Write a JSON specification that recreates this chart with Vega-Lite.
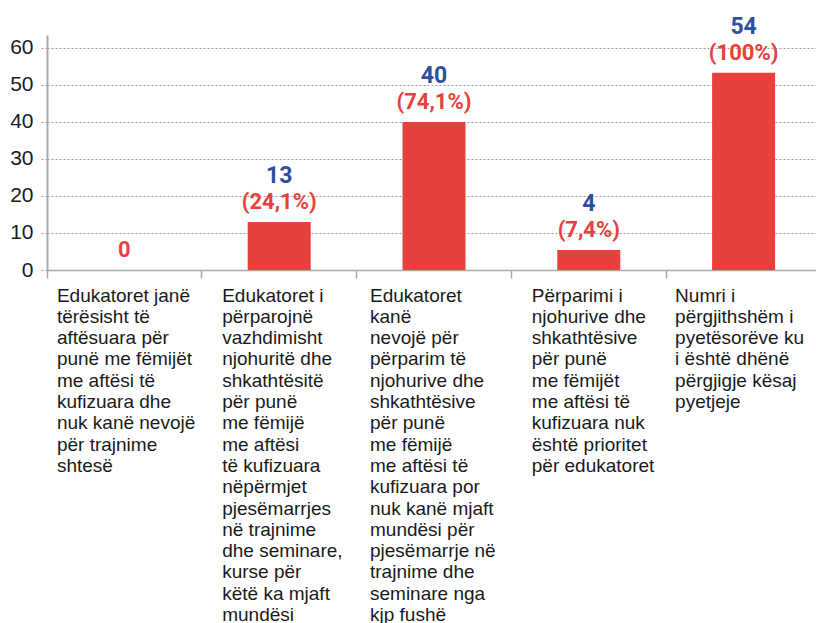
{
  "$schema": "https://vega.github.io/schema/vega-lite/v6.json",
  "width": 774,
  "height": 235,
  "autosize": {"type": "none"},
  "padding": {"left": 47, "top": 35, "right": 0, "bottom": 353},
  "background": "white",
  "config": {"view": {"stroke": null}},
  "data": {
    "values": [
      {"cat": "Edukatoret janë|tërësisht të|aftësuara për|punë me fëmijët|me aftësi të|kufizuara dhe|nuk kanë nevojë|për trajnime|shtesë", "value": 0, "n": "", "pct": "0"},
      {"cat": "Edukatoret i|përparojnë|vazhdimisht|njohuritë dhe|shkathtësitë|për punë|me fëmijë|me aftësi|të kufizuara|nëpërmjet|pjesëmarrjes|në trajnime|dhe seminare,|kurse për|këtë ka mjaft|mundësi", "value": 13, "n": "13", "pct": "(24,1%)"},
      {"cat": "Edukatoret|kanë|nevojë për|përparim të|njohurive dhe|shkathtësive|për punë|me fëmijë|me aftësi të|kufizuara por|nuk kanë mjaft|mundësi për|pjesëmarrje në|trajnime dhe|seminare nga|kjp fushë", "value": 40, "n": "40", "pct": "(74,1%)"},
      {"cat": "Përparimi i|njohurive dhe|shkathtësive|për punë|me fëmijët|me aftësi të|kufizuara nuk|është prioritet|për edukatoret", "value": 5.4, "n": "4", "pct": "(7,4%)"},
      {"cat": "Numri i|përgjithshëm i|pyetësorëve ku|i është dhënë|përgjigje kësaj|pyetjeje", "value": 53.3, "n": "54", "pct": "(100%)"}
    ]
  },
  "encoding": {
    "x": {
      "field": "cat",
      "type": "nominal",
      "sort": null,
      "scale": {"paddingInner": 0, "paddingOuter": 0},
      "axis": {
        "title": null,
        "bandPosition": 0,
        "labelAngle": 0,
        "labelAlign": "left",
        "labelBaseline": "top",
        "labelExpr": "split(datum.label, '|')",
        "labelFont": "Liberation Sans",
        "labelFontSize": 19,
        "labelColor": "#1a1a1a",
        "labelLineHeight": 21.3,
        "labelPadding": 8,
        "labelLimit": 400,
        "labelBound": false,
        "labelOverlap": false,
        "labelOffset": {
          "condition": [
            {"test": "indexof(datum.value, 'Edukatoret janë') == 0", "value": -67.5},
            {"test": "indexof(datum.value, 'Edukatoret i') == 0", "value": -57},
            {"test": "indexof(datum.value, 'Edukatoret|kanë') == 0", "value": -64},
            {"test": "indexof(datum.value, 'Përparimi') == 0", "value": -57}
          ],
          "value": -68.5
        },
        "tickSize": 8,
        "tickColor": "#aaaaaa",
        "tickWidth": 1.5,
        "domainColor": "#aaaaaa",
        "domainWidth": 1.5,
        "grid": false
      }
    },
    "y": {
      "field": "value",
      "type": "quantitative",
      "scale": {"domain": [0, 63.5], "nice": false},
      "axis": {
        "title": null,
        "values": [0, 10, 20, 30, 40, 50, 60],
        "labelOverlap": false,
        "grid": true,
        "gridDash": [2, 2],
        "gridColor": "#999999",
        "gridWidth": 1,
        "domainColor": "#aaaaaa",
        "domainWidth": 2,
        "tickColor": "#999999",
        "tickDash": [2, 2],
        "tickSize": 6,
        "labelFont": "Liberation Sans",
        "labelFontSize": 21,
        "labelColor": "#1a1a1a",
        "labelPadding": 8
      }
    }
  },
  "layer": [
    {
      "mark": {"type": "bar", "size": 63, "color": "#E6413D"}
    },
    {
      "mark": {"type": "text", "font": "Roboto", "fontWeight": "bold", "fontSize": 23, "color": "#2D4F9E", "dy": -39, "baseline": "alphabetic"},
      "encoding": {
        "text": {"field": "n"}
      }
    },
    {
      "mark": {"type": "text", "font": "Roboto", "fontWeight": "bold", "fontSize": 22, "color": "#E6413D", "dy": -13, "baseline": "alphabetic"},
      "encoding": {
        "text": {"field": "pct"}
      }
    }
  ]
}
